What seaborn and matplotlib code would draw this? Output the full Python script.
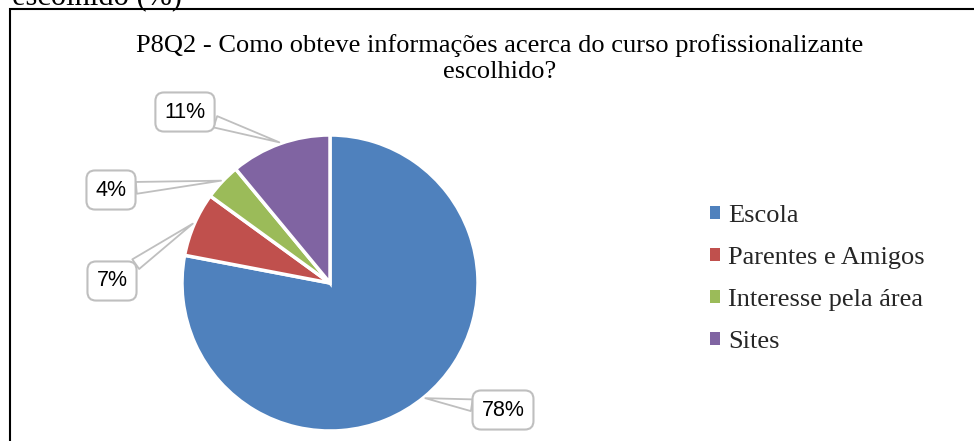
import numpy as np
import matplotlib
matplotlib.use("Agg")
import matplotlib.pyplot as plt
import seaborn as sns
from matplotlib.patches import Rectangle, Patch

sns.set_theme(style="white")
plt.rcParams['font.family'] = ['Liberation Serif', 'DejaVu Serif']

# ---- data ----
categories = ["Escola", "Parentes e Amigos", "Interesse pela área", "Sites"]
values = [78, 7, 4, 11]
pct_labels = ["78%", "7%", "4%", "11%"]
colors = ["#4F81BD", "#C0504D", "#9BBB59", "#8064A2"]
title = "P8Q2 - Como obteve informações acerca do curso profissionalizante\nescolhido?"

W, H = 974, 441
fig = plt.figure(figsize=(W / 100, H / 100), dpi=100)
fig.patch.set_facecolor("white")

# pie axes: center (330,283) px, radius 148 px
cx, cy, R = 330, 283, 148
ax = fig.add_axes([(cx - R) / W, (H - cy - R) / H, 2 * R / W, 2 * R / H])
wedges, _ = ax.pie(values, colors=colors, startangle=90, counterclock=False,
                   radius=1.0,
                   wedgeprops=dict(edgecolor="white", linewidth=2.5))
ax.set_xlim(-1, 1)
ax.set_ylim(-1, 1)
ax.set_aspect("equal")
ax.axis("off")

# callout label positions (figure pixels, from top)
label_pos = [(503, 410), (112, 281), (111, 190), (185, 112)]
for w, lab, (tx, ty) in zip(wedges, pct_labels, label_pos):
    ang = np.deg2rad((w.theta1 + w.theta2) / 2)
    px, py = np.cos(ang) * 1.01, np.sin(ang) * 1.01
    ax.annotate(lab, xy=(px, py), xycoords="data",
                xytext=(tx, H - ty), textcoords="figure pixels",
                ha="center", va="center", fontsize=15.5,
                family=["Liberation Sans", "DejaVu Sans"], color="black",
                bbox=dict(boxstyle="round,pad=0.42,rounding_size=0.4",
                          fc="white", ec="#BFBFBF", lw=1.5),
                arrowprops=dict(arrowstyle="wedge,tail_width=0.55,shrink_factor=0.5",
                                fc="white", ec="#BFBFBF", lw=1.3,
                                shrinkA=0, shrinkB=0),
                annotation_clip=False, zorder=5)

# title
fig.text(500 / W, 1 - 34 / H, title, ha="center", va="top",
         fontsize=19, linespacing=1.24, color="black")

# cut-off document text at top
fig.text(12 / W, 1 - 5 / H, "escolhido (%)", ha="left", va="baseline",
         fontsize=22, color="black")

# legend
handles = [Patch(facecolor=c, edgecolor="none") for c in colors]
fig.legend(handles, categories, loc="upper left",
           bbox_to_anchor=(710 / W, 1 - 205 / H), frameon=False,
           fontsize=19, handlelength=0.36, handleheight=0.36,
           handletextpad=0.33, labelspacing=0.76, borderpad=0, borderaxespad=0)

# frame box (extends beyond right/bottom edges)
fig.add_artist(Rectangle((10 / W, -0.1), 1.2, (H - 9) / H + 0.1,
                         transform=fig.transFigure, fill=False,
                         ec="black", lw=1.5, zorder=10))

fig.savefig("out.png", dpi=100)
